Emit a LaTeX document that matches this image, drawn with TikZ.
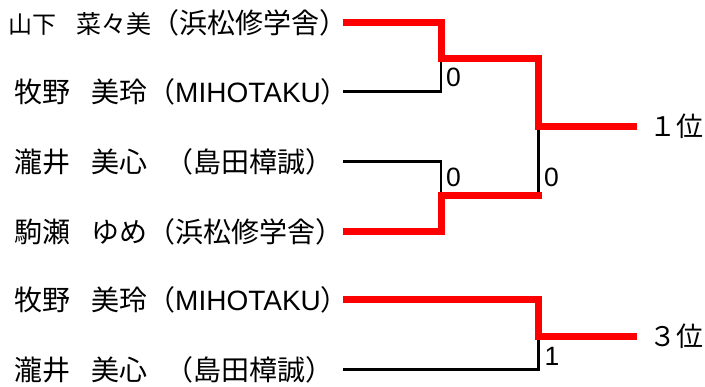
\documentclass[tikz,border=0pt]{standalone}
\usepackage{fontspec}
\newfontfamily\jp{Noto Sans CJK JP}
\newfontfamily\lat{Liberation Sans}
\newcommand{\jsp}[1]{\hspace{#1pt}}
\begin{document}
\begin{tikzpicture}[x=1pt,y=-1pt,
  win/.style={draw=red,line width=7pt,line join=miter},
  lose/.style={draw=black,line width=2.5pt},
  pname/.style={inner sep=0pt,anchor=west,font=\jp\fontsize{28}{32}\selectfont},
  score/.style={inner sep=0pt,anchor=center,font=\lat\fontsize{26.5}{30}\selectfont},
  place/.style={inner ysep=0pt,inner xsep=12pt,anchor=west,font=\jp\fontsize{27}{30}\selectfont}]
\useasboundingbox (0,0) rectangle (705,387);
% players
\node[pname] (p1) at (8,22.5) {\makebox[335pt][l]{{\fontsize{24}{28}\selectfont 山下}\jsp{20}{\fontsize{25}{28}\selectfont 菜々美}（浜松修学舎）}};
\node[pname] (p2) at (14,91.5) {\makebox[329pt][l]{牧野\jsp{21}美玲（{\lat MIHOTAKU}）}};
\node[pname] (p3) at (14,161.5) {\makebox[329pt][l]{瀧井\jsp{21}美心\jsp{18}（島田樟誠）}};
\node[pname] (p4) at (14,231.5) {\makebox[329pt][l]{駒瀬\jsp{21}ゆめ（浜松修学舎）}};
\node[pname] (p5) at (14,300) {\makebox[329pt][l]{牧野\jsp{21}美玲（{\lat MIHOTAKU}）}};
\node[pname] (p6) at (14,369.5) {\makebox[329pt][l]{瀧井\jsp{21}美心\jsp{18}（島田樟誠）}};
% junctions
\coordinate (m1) at (441,58.5);
\coordinate (m2) at (441,196);
\coordinate (f) at (538.5,126.5);
\coordinate (fb) at (538.5,196);
\coordinate (t) at (538.5,336.5);
% results
\node[place] (r1) at (637,126.5) {１位};
\node[place] (r2) at (637,336.5) {３位};
% losing lines
\draw[lose] (p2.east) -| (m1);
\draw[lose] (p3.east) -| (m2);
\draw[lose] (fb) -- (f);
\draw[lose] (p6.east) -| (t);
% winning lines
\draw[win] (p1.east) -| (m1) -| (f) -- (r1.west);
\draw[win] (p4.east) -| (m2) -- ([xshift=3.5pt]fb);
\draw[win] (p5.east) -| (t) -- (r2.west);
% scores
\node[score] (s1) at (453.5,77.5) {0};
\node[score] (s2) at (453.5,177) {0};
\node[score] (s3) at (551.5,177) {0};
\node[score] (s4) at (552,356) {1};
\end{tikzpicture}
\end{document}
